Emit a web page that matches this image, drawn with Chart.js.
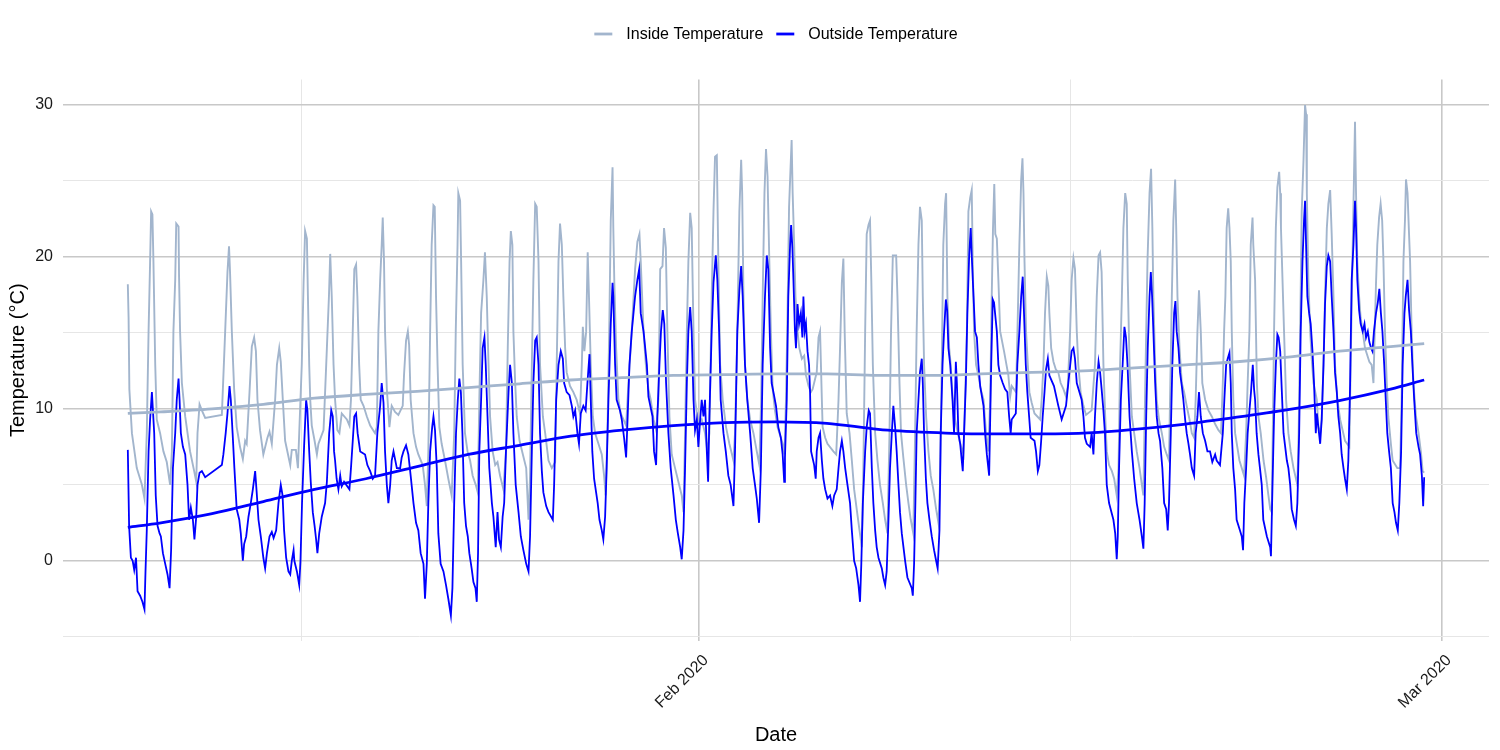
<!DOCTYPE html>
<html>
<head>
<meta charset="utf-8">
<title>Inside and Outside Temperature</title>
<script src="https://cdn.jsdelivr.net/npm/chart.js@4.4.1/dist/chart.umd.min.js"></script>
<style>
  html, body { margin: 0; padding: 0; background: #ffffff; }
  #wrap { width: 1500px; height: 750px; }
</style>
</head>
<body>
<div id="wrap"><canvas id="tempChart"></canvas></div>
<script>
// time is in days since 1 Jan 2020 00:00 (31 = 1 Feb, 60 = 1 Mar)
const insideTimes = [
  8.71, 8.74, 8.77, 8.87, 9.06, 9.26, 9.36, 9.45, 9.52, 9.58, 9.62, 9.67, 9.71, 9.78, 9.84, 9.97,
  10.10, 10.23, 10.36, 10.43, 10.49, 10.56, 10.60, 10.69, 10.71, 10.75, 10.82, 10.95, 11.14, 11.30,
  11.38, 11.43, 11.51, 11.60, 11.73, 12.38, 12.51, 12.60, 12.66, 12.70, 12.77, 12.86, 12.96, 13.09,
  13.20, 13.29, 13.35, 13.46, 13.55, 13.64, 13.71, 13.77, 13.87, 14.00, 14.16, 14.24, 14.33, 14.46,
  14.53, 14.62, 14.68, 14.76, 14.85, 15.05, 15.11, 15.27, 15.35, 15.40, 15.50, 15.57, 15.63, 15.70,
  15.74, 15.79, 15.83, 15.89, 16.00, 16.09, 16.15, 16.35, 16.48, 16.56, 16.61, 16.67, 16.74, 16.80,
  16.89, 16.97, 17.06, 17.26, 17.36, 17.42, 17.49, 17.55, 17.62, 17.67, 17.74, 17.80, 17.91, 18.04,
  18.17, 18.36, 18.43, 18.49, 18.56, 18.62, 18.66, 18.71, 18.75, 18.82, 18.92, 19.01, 19.14, 19.27,
  19.44, 19.49, 19.57, 19.64, 19.69, 19.75, 19.86, 19.96, 20.05, 20.22, 20.31, 20.38, 20.44, 20.51,
  20.57, 20.64, 20.69, 20.74, 20.80, 20.87, 20.96, 21.09, 21.22, 21.35, 21.45, 21.51, 21.58, 21.61,
  21.68, 21.72, 21.78, 21.87, 21.97, 22.07, 22.17, 22.29, 22.37, 22.43, 22.50, 22.59, 22.65, 22.72,
  22.79, 22.85, 22.95, 23.05, 23.14, 23.24, 23.37, 23.47, 23.54, 23.61, 23.66, 23.72, 23.76, 23.83,
  23.89, 24.00, 24.13, 24.26, 24.35, 24.41, 24.48, 24.54, 24.61, 24.67, 24.74, 24.80, 24.91, 25.00,
  25.13, 25.26, 25.39, 25.45, 25.52, 25.58, 25.65, 25.71, 25.78, 25.84, 25.97, 26.10, 26.23, 26.36,
  26.43, 26.47, 26.53, 26.60, 26.66, 26.71, 26.78, 26.86, 26.95, 27.08, 27.21, 27.30, 27.36, 27.43,
  27.50, 27.56, 27.63, 27.66, 27.70, 27.77, 27.86, 27.95, 28.16, 28.25, 28.38, 28.51, 28.60, 28.68,
  28.73, 28.84, 28.93, 29.03, 29.12, 29.23, 29.33, 29.42, 29.49, 29.58, 29.64, 29.71, 29.77, 29.85,
  29.94, 30.07, 30.20, 30.33, 30.40, 30.46, 30.53, 30.59, 30.66, 30.72, 30.79, 30.85, 30.98, 31.11,
  31.24, 31.33, 31.41, 31.50, 31.57, 31.63, 31.70, 31.76, 31.83, 31.93, 32.06, 32.19, 32.35, 32.41,
  32.50, 32.58, 32.65, 32.69, 32.74, 32.80, 32.89, 33.00, 33.13, 33.26, 33.36, 33.43, 33.49, 33.56,
  33.62, 33.68, 33.75, 33.81, 33.88, 33.97, 34.07, 34.27, 34.34, 34.40, 34.46, 34.52, 34.59, 34.62,
  34.66, 34.72, 34.77, 34.85, 34.92, 35.02, 35.11, 35.18, 35.28, 35.37, 35.44, 35.54, 35.60, 35.67,
  35.73, 35.80, 35.83, 35.93, 36.02, 36.25, 36.36, 36.45, 36.51, 36.58, 36.64, 36.69, 36.77, 36.88,
  36.97, 37.06, 37.16, 37.27, 37.36, 37.42, 37.49, 37.55, 37.62, 37.68, 37.73, 37.79, 37.88, 37.97,
  38.07, 38.18, 38.27, 38.36, 38.44, 38.50, 38.57, 38.70, 38.75, 38.83, 38.89, 38.98, 39.09, 39.18,
  39.27, 39.37, 39.44, 39.50, 39.57, 39.63, 39.70, 39.74, 39.79, 39.87, 39.96, 40.05, 40.15, 40.26,
  40.35, 40.41, 40.48, 40.54, 40.61, 40.65, 40.70, 40.77, 40.83, 40.91, 41.00, 41.17, 41.33, 41.39,
  41.46, 41.52, 41.59, 41.65, 41.69, 41.74, 41.82, 41.91, 42.00, 42.11, 42.21, 42.30, 42.37, 42.43,
  42.48, 42.53, 42.57, 42.63, 42.69, 42.76, 42.91, 43.08, 43.15, 43.21, 43.38, 43.45, 43.51, 43.58,
  43.63, 43.67, 43.71, 43.77, 43.84, 43.90, 43.99, 44.10, 44.32, 44.38, 44.45, 44.51, 44.58, 44.64,
  44.68, 44.75, 44.84, 44.93, 45.03, 45.12, 45.23, 45.33, 45.40, 45.49, 45.55, 45.62, 45.68, 45.75,
  45.81, 45.90, 46.01, 46.11, 46.33, 46.46, 46.53, 46.60, 46.66, 46.72, 46.79, 46.86, 46.92, 47.01,
  47.12, 47.21, 47.31, 47.38, 47.44, 47.51, 47.57, 47.64, 47.70, 47.74, 47.81, 47.90, 47.99, 48.09,
  48.20, 48.29, 48.35, 48.39, 48.46, 48.51, 48.59, 48.65, 48.70, 48.74, 48.81, 48.87, 48.96, 49.07,
  49.16, 49.26, 49.35, 49.39, 49.46, 49.52, 49.59, 49.63, 49.68, 49.76, 49.85, 49.94, 50.04, 50.15,
  50.24, 50.33, 50.39, 50.46, 50.52, 50.59, 50.65, 50.76, 50.89, 51.02, 51.15, 51.28, 51.38, 51.45,
  51.50, 51.55, 51.60, 51.66, 51.71, 51.76, 51.80, 51.86, 51.93, 52.10, 52.28, 52.36, 52.42, 52.49,
  52.54, 52.61, 52.64, 52.71, 52.78, 52.84, 52.93, 53.04, 53.14, 53.23, 53.30, 53.36, 53.40, 53.45,
  53.52, 53.58, 53.65, 53.69, 53.72, 53.78, 53.84, 53.92, 54.01, 54.10, 54.21, 54.36, 54.41, 54.47,
  54.53, 54.60, 54.66, 54.70, 54.73, 54.79, 54.86, 54.92, 54.99, 55.12, 55.18, 55.25, 55.31, 55.38,
  55.44, 55.51, 55.57, 55.64, 55.70, 55.77, 55.83, 55.92, 56.03, 56.22, 56.39, 56.44, 56.51, 56.57,
  56.61, 56.65, 56.70, 56.77, 56.83, 56.91, 57.00, 57.17, 57.26, 57.33, 57.38, 57.43, 57.48, 57.55,
  57.61, 57.67, 57.72, 57.78, 57.85, 57.91, 58.01, 58.08, 58.26, 58.37, 58.43, 58.50, 58.56, 58.60,
  58.66, 58.71, 58.76, 58.82, 58.89, 58.99, 59.09, 59.18, 59.25, 59.31
];
const insideTemps = [
  18.2, 16.0, 11.3, 8.4, 6.1, 5.0, 4.1, 8.4, 15.1, 19.7, 23.0, 22.8, 19.7, 12.9, 9.3, 8.4,
  7.2, 6.5, 5.0, 7.2, 15.1, 18.5, 22.2, 22.0, 18.7, 15.1, 11.7, 9.5, 7.2, 5.9,
  5.2, 8.4, 10.3, 9.9, 9.4, 9.6, 15.1, 19.0, 20.7, 19.0, 15.1, 11.3, 8.8, 7.5,
  6.7, 7.9, 7.7, 11.1, 14.1, 14.7, 13.8, 10.6, 8.6, 7.0, 8.1, 8.5, 7.7, 10.6,
  12.9, 14.0, 13.1, 10.6, 7.9, 6.3, 7.3, 7.3, 6.1, 8.4, 12.9, 18.3, 21.7, 21.2,
  17.4, 12.9, 10.6, 8.9, 7.9, 7.0, 7.7, 8.6, 14.0, 17.4, 20.2, 17.4, 12.9, 10.6,
  8.6, 8.4, 9.7, 9.3, 8.9, 10.6, 15.1, 19.2, 19.5, 17.4, 12.9, 10.6, 10.2, 9.5,
  8.9, 8.4, 8.8, 15.1, 18.5, 20.8, 22.6, 19.7, 15.1, 11.3, 8.8, 10.2, 9.8, 9.6,
  10.2, 12.2, 14.5, 15.1, 14.2, 10.6, 8.4, 7.5, 7.0, 6.3, 5.0, 3.6, 7.2, 15.1,
  20.8, 23.4, 23.3, 17.4, 12.9, 8.8, 7.7, 6.6, 5.4, 4.3, 8.4, 15.1, 20.8, 24.2,
  23.7, 19.7, 12.9, 8.4, 7.2, 6.6, 5.6, 5.0, 4.5, 10.6, 16.3, 18.5, 20.3, 17.4,
  12.9, 9.5, 7.2, 6.3, 6.5, 5.6, 4.7, 7.2, 14.0, 19.7, 21.7, 20.8, 15.1, 11.7,
  9.5, 7.9, 7.0, 6.1, 2.7, 5.6, 12.9, 18.5, 23.5, 23.3, 19.7, 12.9, 9.5, 8.4,
  6.6, 6.1, 6.5, 12.9, 19.7, 22.2, 20.8, 17.4, 14.0, 12.4, 11.5, 11.1, 10.6, 9.7,
  12.9, 15.4, 13.8, 15.1, 20.3, 17.4, 12.9, 9.5, 8.4, 7.7, 7.0, 5.6, 4.3, 8.4,
  15.1, 22.4, 25.9, 21.9, 18.3, 14.0, 10.6, 9.7, 8.9, 11.7, 15.1, 19.2, 21.0, 21.5,
  19.7, 15.1, 12.9, 11.3, 10.6, 9.3, 8.6, 10.6, 19.2, 19.4, 21.9, 20.6, 15.1, 9.5,
  7.0, 6.1, 5.2, 4.3, 3.2, 8.4, 15.1, 19.7, 22.9, 21.9, 15.1, 10.6, 9.0, 9.3,
  8.4, 7.2, 8.4, 17.4, 23.0, 26.6, 26.7, 19.7, 12.9, 10.6, 8.8, 7.7, 6.6, 8.4,
  15.1, 23.0, 26.4, 24.2, 17.4, 12.9, 10.6, 9.3, 8.4, 7.2, 6.3, 10.6, 17.4, 24.2,
  27.1, 25.3, 19.7, 15.1, 11.3, 9.9, 8.8, 7.7, 7.0, 10.6, 16.3, 23.3, 26.4, 27.7,
  24.2, 20.8, 17.4, 15.1, 14.0, 13.3, 13.5, 12.2, 11.5, 11.1, 11.3, 12.0, 12.4, 14.7,
  15.1, 10.6, 8.8, 8.1, 7.7, 7.2, 7.0, 10.6, 14.0, 18.3, 19.9, 15.1, 9.7, 8.4,
  6.6, 4.7, 3.4, 2.0, 0.9, 6.1, 15.1, 21.5, 22.1, 22.4, 18.5, 12.9, 8.4, 6.6,
  5.0, 3.8, 2.7, 1.8, 8.4, 15.1, 20.1, 20.1, 17.4, 11.7, 8.4, 6.8, 5.0, 3.8,
  2.7, 1.8, 8.4, 15.1, 20.8, 23.3, 22.4, 17.4, 12.9, 9.5, 7.2, 5.6, 4.7, 3.4,
  2.5, 5.0, 12.9, 20.8, 23.5, 24.2, 17.4, 14.0, 12.9, 10.6, 9.3, 7.9, 7.0, 10.6,
  15.1, 23.0, 23.9, 24.4, 19.7, 15.1, 12.9, 12.2, 11.3, 10.6, 8.4, 7.2, 10.6, 17.4,
  21.9, 24.8, 21.5, 21.2, 18.5, 15.1, 13.8, 12.2, 10.8, 11.5, 11.1, 16.3, 20.8, 25.1,
  26.5, 24.2, 19.7, 15.1, 12.9, 11.1, 10.4, 9.7, 9.3, 10.6, 12.9, 16.3, 18.7, 18.1,
  16.3, 14.0, 13.1, 12.6, 12.4, 11.7, 11.3, 10.8, 11.5, 15.1, 18.5, 19.9, 19.2, 15.1,
  12.9, 11.1, 10.2, 9.6, 9.9, 12.9, 17.4, 20.1, 20.3, 19.0, 12.9, 9.5, 7.2, 6.3,
  5.9, 5.4, 4.3, 6.1, 12.9, 17.4, 21.9, 24.2, 23.5, 18.5, 12.9, 9.5, 8.4, 7.2,
  6.1, 5.0, 4.3, 8.4, 15.1, 19.7, 24.2, 25.8, 21.9, 17.4, 12.9, 10.6, 9.3, 8.4,
  7.5, 7.0, 6.6, 10.6, 17.4, 22.4, 25.1, 22.0, 17.4, 14.0, 11.7, 11.1, 10.2, 9.3,
  8.4, 8.1, 10.6, 15.1, 17.8, 15.1, 11.7, 10.6, 9.9, 9.5, 9.0, 8.6, 8.4, 11.7,
  15.1, 17.4, 21.9, 23.2, 21.9, 19.7, 15.1, 10.6, 8.4, 6.6, 5.6, 8.4, 11.7, 15.1,
  20.8, 22.6, 20.8, 18.5, 11.7, 9.5, 8.4, 6.6, 5.5, 4.3, 3.4, 3.2, 8.4, 15.1,
  21.9, 24.6, 25.6, 24.2, 21.9, 18.5, 15.1, 10.6, 8.4, 7.2, 6.1, 5.0, 8.4, 15.1,
  23.0, 26.4, 30.0, 29.4, 24.2, 18.5, 15.1, 13.3, 11.7, 10.6, 8.8, 8.4, 9.3, 12.9,
  17.4, 21.9, 23.5, 24.4, 21.5, 17.4, 12.9, 10.6, 9.3, 7.9, 7.5, 12.9, 19.7, 25.3,
  28.9, 24.2, 19.7, 17.4, 16.0, 15.1, 14.0, 13.1, 12.9, 11.7, 15.1, 18.3, 20.8, 22.6,
  23.5, 22.4, 19.7, 15.1, 11.7, 9.5, 7.7, 6.6, 6.1, 6.1, 10.6, 19.7, 22.4, 25.1,
  24.2, 21.9, 19.7, 15.1, 11.7, 9.5, 8.4, 7.2, 5.9, 5.8
];

const outsideTimes = [
  8.71, 8.76, 8.83, 8.90, 8.96, 9.03, 9.09, 9.19, 9.28, 9.36, 9.40, 9.45, 9.52, 9.58, 9.65, 9.69,
  9.74, 9.80, 9.87, 9.95, 10.00, 10.08, 10.17, 10.26, 10.34, 10.40, 10.47, 10.56, 10.62, 10.69,
  10.73, 10.78, 10.86, 10.95, 11.04, 11.10, 11.17, 11.25, 11.31, 11.38, 11.43, 11.51, 11.60, 11.73,
  12.38, 12.44, 12.53, 12.60, 12.68, 12.73, 12.80, 12.87, 12.96, 13.06, 13.12, 13.20, 13.25, 13.33,
  13.42, 13.51, 13.59, 13.68, 13.74, 13.81, 13.90, 14.00, 14.07, 14.14, 14.24, 14.33, 14.40, 14.50,
  14.59, 14.68, 14.75, 14.81, 14.89, 14.98, 15.05, 15.11, 15.18, 15.21, 15.31, 15.40, 15.45, 15.51,
  15.59, 15.67, 15.72, 15.79, 15.85, 15.93, 16.00, 16.06, 16.11, 16.18, 16.28, 16.41, 16.48, 16.57,
  16.65, 16.71, 16.76, 16.80, 16.86, 16.93, 17.00, 17.06, 17.15, 17.36, 17.42, 17.49, 17.55, 17.62,
  17.68, 17.78, 17.97, 18.06, 18.17, 18.27, 18.36, 18.45, 18.56, 18.62, 18.69, 18.75, 18.82, 18.88,
  18.95, 19.01, 19.08, 19.21, 19.34, 19.40, 19.47, 19.57, 19.66, 19.75, 19.86, 19.96, 20.05, 20.14,
  20.25, 20.31, 20.38, 20.44, 20.51, 20.59, 20.64, 20.70, 20.77, 20.83, 20.92, 21.03, 21.13, 21.22,
  21.32, 21.38, 21.45, 21.52, 21.59, 21.65, 21.71, 21.77, 21.84, 21.91, 21.98, 22.04, 22.13, 22.20,
  22.28, 22.33, 22.38, 22.43, 22.50, 22.56, 22.63, 22.68, 22.75, 22.82, 22.92, 22.98, 23.07, 23.14,
  23.20, 23.27, 23.34, 23.40, 23.47, 23.57, 23.63, 23.70, 23.76, 23.85, 23.96, 24.05, 24.15, 24.26,
  24.35, 24.41, 24.48, 24.54, 24.61, 24.67, 24.74, 24.80, 24.87, 24.93, 25.04, 25.13, 25.30, 25.35,
  25.43, 25.52, 25.61, 25.69, 25.74, 25.84, 25.95, 26.04, 26.10, 26.17, 26.26, 26.32, 26.39, 26.49,
  26.58, 26.65, 26.73, 26.78, 26.84, 26.91, 27.05, 27.12, 27.21, 27.27, 27.34, 27.40, 27.47, 27.56,
  27.63, 27.66, 27.73, 27.79, 27.92, 27.99, 28.08, 28.16, 28.22, 28.29, 28.38, 28.51, 28.60, 28.67,
  28.73, 28.84, 28.97, 29.03, 29.19, 29.25, 29.33, 29.38, 29.46, 29.52, 29.59, 29.65, 29.72, 29.81,
  29.90, 30.01, 30.10, 30.18, 30.27, 30.33, 30.40, 30.46, 30.53, 30.59, 30.66, 30.72, 30.79, 30.85,
  30.92, 30.98, 31.05, 31.11, 31.18, 31.24, 31.31, 31.36, 31.41, 31.50, 31.57, 31.66, 31.72, 31.79,
  31.85, 31.96, 32.05, 32.15, 32.24, 32.35, 32.41, 32.50, 32.58, 32.65, 32.71, 32.80, 32.89, 33.00,
  33.10, 33.19, 33.26, 33.35, 33.42, 33.49, 33.58, 33.65, 33.71, 33.78, 33.84, 33.91, 34.01, 34.10,
  34.20, 34.27, 34.33, 34.36, 34.43, 34.49, 34.56, 34.60, 34.65, 34.69, 34.75, 34.79, 34.85, 34.91,
  34.98, 35.04, 35.08, 35.13, 35.18, 35.24, 35.30, 35.34, 35.38, 35.50, 35.56, 35.60, 35.67, 35.73,
  35.80, 35.86, 35.93, 36.02, 36.12, 36.21, 36.28, 36.38, 36.45, 36.51, 36.58, 36.64, 36.71, 36.80,
  36.90, 36.97, 37.06, 37.14, 37.23, 37.29, 37.34, 37.40, 37.49, 37.55, 37.63, 37.68, 37.75, 37.81,
  37.88, 37.94, 38.01, 38.14, 38.20, 38.27, 38.33, 38.40, 38.46, 38.53, 38.59, 38.66, 38.72, 38.79,
  38.85, 38.92, 39.05, 39.14, 39.31, 39.35, 39.40, 39.45, 39.50, 39.57, 39.63, 39.70, 39.74, 39.79,
  39.86, 39.92, 40.00, 40.09, 40.18, 40.26, 40.32, 40.39, 40.44, 40.51, 40.57, 40.64, 40.69, 40.74,
  40.81, 40.90, 40.96, 41.03, 41.07, 41.13, 41.20, 41.26, 41.30, 41.35, 41.42, 41.48, 41.55, 41.61,
  41.65, 41.72, 41.78, 41.85, 41.91, 41.98, 42.11, 42.17, 42.24, 42.33, 42.41, 42.47, 42.52, 42.56,
  42.63, 42.69, 42.76, 42.86, 42.95, 43.04, 43.11, 43.17, 43.21, 43.37, 43.43, 43.51, 43.58, 43.64,
  43.69, 43.76, 43.82, 43.89, 43.95, 44.10, 44.16, 44.23, 44.29, 44.36, 44.42, 44.49, 44.55, 44.62,
  44.68, 44.86, 45.03, 45.16, 45.33, 45.42, 45.55, 45.62, 45.68, 45.75, 45.94, 46.01, 46.07, 46.14,
  46.27, 46.33, 46.40, 46.46, 46.53, 46.60, 46.66, 46.72, 46.79, 46.85, 46.92, 47.01, 47.18, 47.25,
  47.31, 47.35, 47.40, 47.47, 47.54, 47.61, 47.67, 47.73, 47.81, 47.90, 47.99, 48.09, 48.20, 48.29,
  48.35, 48.40, 48.46, 48.52, 48.59, 48.64, 48.69, 48.74, 48.81, 48.87, 48.94, 49.00, 49.09, 49.16,
  49.24, 49.30, 49.35, 49.42, 49.48, 49.55, 49.60, 49.65, 49.72, 49.78, 49.85, 49.91, 49.98, 50.04,
  50.11, 50.17, 50.24, 50.33, 50.39, 50.46, 50.52, 50.59, 50.67, 50.76, 50.85, 50.95, 51.04, 51.15,
  51.21, 51.34, 51.45, 51.51, 51.58, 51.64, 51.71, 51.76, 51.80, 51.86, 51.93, 51.99, 52.12, 52.19,
  52.24, 52.29, 52.36, 52.42, 52.49, 52.55, 52.62, 52.67, 52.71, 52.77, 52.84, 52.90, 52.97, 53.03,
  53.17, 53.30, 53.33, 53.39, 53.45, 53.52, 53.58, 53.63, 53.69, 53.75, 53.82, 53.95, 54.01, 54.08,
  54.14, 54.23, 54.30, 54.36, 54.43, 54.49, 54.56, 54.62, 54.66, 54.70, 54.75, 54.82, 54.88, 54.95,
  55.01, 55.08, 55.12, 55.18, 55.25, 55.31, 55.38, 55.44, 55.51, 55.57, 55.64, 55.70, 55.77, 55.83,
  55.90, 55.96, 56.03, 56.09, 56.16, 56.22, 56.29, 56.35, 56.42, 56.48, 56.55, 56.61, 56.65, 56.70,
  56.77, 56.83, 56.91, 56.98, 57.04, 57.11, 57.17, 57.24, 57.29, 57.35, 57.43, 57.50, 57.56, 57.62,
  57.68, 57.75, 57.81, 57.87, 57.94, 58.01, 58.08, 58.15, 58.21, 58.28, 58.34, 58.41, 58.47, 58.54,
  58.59, 58.66, 58.72, 58.79, 58.85, 58.92, 59.00, 59.09, 59.15, 59.22, 59.27, 59.31
];
const outsideTemps = [
  7.3, 2.3, 0.2, 0.0, -0.6, 0.2, -2.0, -2.3, -2.7, -3.2, -0.7, 2.0, 7.2, 9.3, 11.1, 9.9,
  8.4, 4.3, 2.3, 1.8, 1.6, 0.5, -0.2, -0.9, -1.8, 0.7, 6.1, 8.4, 10.6, 12.0,
  10.6, 8.4, 7.5, 7.0, 5.0, 2.7, 3.5, 2.7, 1.4, 2.9, 5.0, 5.8, 5.9, 5.5,
  6.3, 7.0, 8.4, 9.7, 11.5, 10.6, 8.4, 6.1, 3.4, 2.7, 1.8, 0.0, 1.1, 1.6,
  2.9, 3.8, 4.7, 5.9, 4.5, 2.7, 1.6, 0.2, -0.5, 0.5, 1.6, 1.9, 1.5, 2.0,
  3.8, 5.0, 4.3, 2.0, 0.2, -0.7, -0.9, 0.0, 0.7, 0.0, -0.7, -1.6, 0.0, 3.8,
  7.5, 10.6, 9.9, 7.2, 5.2, 3.2, 2.3, 1.4, 0.5, 1.8, 2.9, 3.8, 5.2, 8.4,
  9.9, 9.5, 7.2, 6.6, 5.4, 4.7, 5.6, 4.9, 5.2, 4.7, 6.1, 7.9, 9.5, 9.7,
  8.4, 7.2, 7.0, 6.3, 5.9, 5.4, 5.6, 8.4, 10.2, 11.7, 10.4, 7.2, 5.0, 3.8,
  5.0, 6.6, 7.2, 6.1, 6.1, 6.8, 7.2, 7.6, 7.0, 5.6, 3.8, 2.5, 2.0, 0.5,
  -0.2, -2.5, -0.2, 3.8, 7.2, 8.8, 9.5, 8.6, 6.1, 1.8, -0.2, -0.7, -1.6, -2.5,
  -3.6, -1.8, 3.8, 8.4, 10.6, 12.0, 11.1, 8.4, 3.8, 2.3, 1.6, 0.5, -0.5, -1.4,
  -1.8, -2.7, 0.5, 7.2, 10.6, 14.0, 14.7, 12.9, 9.5, 6.1, 3.8, 2.9, 0.9, 3.2,
  1.4, 0.9, 2.9, 3.8, 7.2, 11.1, 12.9, 11.7, 8.4, 5.0, 3.2, 1.6, 0.7, -0.2,
  -0.7, 1.6, 7.2, 11.7, 14.5, 14.7, 12.9, 8.4, 5.9, 4.5, 3.6, 3.2, 2.7, 5.0,
  10.6, 12.9, 13.8, 13.3, 11.7, 11.1, 10.9, 10.2, 9.5, 9.9, 8.4, 7.7, 9.7, 10.2,
  9.9, 11.7, 13.6, 10.6, 7.2, 5.4, 3.8, 2.7, 2.0, 1.4, 2.9, 6.1, 10.6, 15.6,
  18.3, 17.4, 12.9, 10.6, 9.9, 9.3, 8.1, 6.8, 9.5, 12.9, 15.1, 17.4, 18.5, 19.2,
  16.3, 15.1, 12.9, 10.8, 9.5, 7.2, 6.3, 9.5, 12.9, 15.1, 16.5, 15.6, 11.7, 8.4,
  6.1, 4.3, 2.7, 1.8, 0.9, 0.1, 2.0, 6.1, 11.7, 15.1, 16.7, 15.1, 10.6, 8.6,
  9.3, 7.5, 9.3, 10.6, 9.5, 10.6, 7.2, 5.2, 9.5, 15.1, 18.3, 20.1, 18.5, 15.1,
  10.6, 8.4, 7.2, 5.6, 5.0, 3.6, 7.2, 15.1, 17.8, 19.4, 17.4, 12.9, 10.6, 8.4,
  6.1, 5.0, 4.1, 2.5, 6.1, 12.9, 17.4, 20.1, 19.2, 14.0, 11.7, 11.1, 10.2, 8.8,
  8.1, 7.0, 5.2, 6.8, 10.6, 17.4, 20.8, 22.1, 20.6, 18.5, 15.1, 14.0, 16.9, 15.6,
  16.3, 14.7, 17.4, 15.1, 15.6, 13.8, 12.9, 11.1, 7.2, 6.3, 5.4, 7.2, 8.1, 8.4,
  6.6, 5.4, 4.7, 4.1, 4.3, 3.6, 4.3, 4.7, 6.1, 7.2, 7.9, 7.2, 6.1, 5.0,
  3.8, 2.0, 0.0, -0.5, -1.6, -2.7, -0.2, 3.8, 7.2, 8.8, 9.9, 9.7, 6.1, 3.8,
  2.0, 0.9, 0.2, -0.5, -1.1, -1.6, -0.7, 2.7, 6.1, 8.4, 10.2, 8.8, 7.2, 5.0,
  3.2, 1.8, 0.0, -1.1, -1.8, -2.3, -0.2, 3.8, 8.4, 10.6, 12.4, 13.3, 11.7, 8.4,
  5.4, 3.8, 2.7, 1.6, 0.7, 0.0, -0.5, 2.0, 8.4, 12.9, 15.1, 17.2, 16.5, 14.0,
  12.9, 10.6, 8.4, 13.1, 11.7, 8.4, 7.7, 6.6, 5.9, 8.4, 11.7, 16.3, 20.1, 21.9,
  20.1, 17.4, 15.1, 14.7, 12.9, 11.5, 10.2, 8.4, 7.0, 5.6, 12.9, 17.2, 17.0, 16.3,
  15.1, 12.9, 12.2, 11.7, 11.3, 11.1, 9.5, 8.4, 9.3, 9.7, 12.9, 15.1, 17.4, 18.7,
  16.3, 12.9, 11.1, 9.5, 8.1, 7.9, 7.2, 5.9, 6.3, 7.9, 9.5, 11.1, 12.6, 13.3,
  12.2, 11.5, 10.2, 9.3, 10.2, 11.7, 13.8, 14.0, 13.3, 11.7, 10.6, 9.5, 8.1, 7.7,
  7.5, 8.4, 7.0, 9.5, 11.7, 13.1, 12.4, 11.3, 9.9, 8.4, 5.0, 3.8, 2.7, 1.8,
  0.1, 1.6, 6.1, 10.6, 12.9, 15.4, 14.7, 12.9, 9.5, 7.2, 5.4, 3.8, 2.7, 1.6,
  0.8, 3.8, 9.5, 14.0, 17.4, 19.0, 17.4, 15.1, 11.7, 9.5, 8.4, 7.9, 6.1, 3.8,
  3.4, 2.0, 3.8, 8.4, 12.9, 16.3, 17.1, 15.1, 14.0, 12.4, 11.5, 10.6, 9.3, 8.4,
  7.7, 7.0, 6.1, 5.6, 8.4, 9.5, 11.1, 9.5, 8.4, 7.9, 7.2, 7.2, 6.5, 7.0,
  6.6, 6.3, 8.4, 10.6, 12.9, 13.3, 13.7, 11.7, 8.4, 6.1, 4.7, 2.7, 2.0, 1.6,
  0.7, 3.8, 6.1, 8.4, 9.9, 11.1, 12.9, 11.3, 10.6, 8.4, 7.0, 6.1, 5.0, 2.7,
  1.6, 0.9, 0.3, 5.0, 9.5, 12.9, 14.9, 14.7, 13.8, 11.3, 8.4, 6.6, 6.1, 5.0,
  3.4, 2.7, 2.3, 3.8, 8.4, 15.1, 19.7, 22.4, 23.7, 20.8, 17.4, 16.3, 15.6, 13.8,
  11.7, 8.4, 9.7, 8.8, 7.7, 9.3, 12.9, 16.9, 19.4, 20.1, 19.7, 17.4, 15.1, 12.4,
  11.1, 9.5, 8.4, 7.0, 6.1, 5.4, 4.7, 6.6, 11.7, 18.5, 20.8, 23.7, 21.9, 18.5,
  16.5, 15.6, 15.1, 15.6, 14.7, 15.1, 14.4, 14.0, 13.8, 15.1, 16.3, 17.0, 17.9, 16.3,
  15.1, 12.9, 10.6, 8.4, 7.2, 6.1, 3.8, 3.2, 2.5, 2.0, 3.8, 7.2, 12.9, 16.3,
  17.4, 18.5, 16.5, 15.1, 12.9, 10.6, 8.4, 7.5, 7.0, 5.6, 3.6, 5.5
];

// smoothed trend lines
const trendTimes = [8.71, 10, 12, 14, 16, 18, 20, 22, 24, 26, 28, 30, 32, 34, 36, 38, 40, 42, 44, 46, 48, 50, 52, 54, 56, 58, 59.31];
const insideTrend = [9.7, 9.8, 10.0, 10.3, 10.7, 10.95, 11.15, 11.4, 11.65, 11.9, 12.05, 12.2, 12.25, 12.3, 12.3, 12.2, 12.2, 12.3, 12.4, 12.5, 12.7, 12.9, 13.1, 13.4, 13.8, 14.1, 14.3];
const outsideTrend = [2.2, 2.5, 3.1, 3.9, 4.7, 5.4, 6.2, 7.0, 7.6, 8.2, 8.6, 8.9, 9.1, 9.15, 9.05, 8.65, 8.45, 8.35, 8.35, 8.4, 8.65, 9.0, 9.45, 9.95, 10.55, 11.3, 11.9];

const xTickDays = [31, 60];
const xTickLabels = ['Feb 2020', 'Mar 2020'];
const xMinorDays = [15.5, 45.5];
const yTickValues = [0, 10, 20, 30];
const yMinorValues = [-5, 5, 15, 25];

const insideColor = '#A2B5CD';
const outsideColor = '#0000FF';
const fontFamily = '"Liberation Sans", Arial, Helvetica, sans-serif';

function toPoints(xs, ys) {
  return xs.map((x, i) => ({ x: x, y: ys[i] }));
}

// legend drawn as short lines above the panel, like the ggplot one
const topLegend = {
  id: 'topLegend',
  afterDraw(chart) {
    const ctx = chart.ctx;
    const items = chart.data.datasets.filter(d => d.inLegend);
    const lineW = 18, gap = 14, itemGap = 13;
    ctx.save();
    ctx.font = '16px ' + fontFamily;
    const widths = items.map(d => lineW + gap + ctx.measureText(d.label).width);
    const total = widths.reduce((a, b) => a + b, 0) + itemGap * (items.length - 1);
    const area = chart.chartArea;
    let x = (area.left + area.right) / 2 - total / 2;
    const y = 34;
    items.forEach((d, i) => {
      ctx.strokeStyle = d.borderColor;
      ctx.lineWidth = 2.8;
      ctx.beginPath();
      ctx.moveTo(x, y);
      ctx.lineTo(x + lineW, y);
      ctx.stroke();
      ctx.fillStyle = '#000000';
      ctx.textBaseline = 'middle';
      ctx.textAlign = 'left';
      ctx.fillText(d.label, x + lineW + gap, y + 1);
      x += widths[i] + itemGap;
    });
    ctx.restore();
  }
};

new Chart(document.getElementById('tempChart'), {
  type: 'line',
  data: {
    datasets: [
      {
        label: 'Inside Temperature',
        inLegend: true,
        data: toPoints(insideTimes, insideTemps),
        borderColor: insideColor,
        borderWidth: 1.9,
        pointRadius: 0,
        order: 4
      },
      {
        label: 'Outside Temperature',
        inLegend: true,
        data: toPoints(outsideTimes, outsideTemps),
        borderColor: outsideColor,
        borderWidth: 1.8,
        pointRadius: 0,
        order: 3
      },
      {
        label: 'Inside trend',
        data: toPoints(trendTimes, insideTrend),
        borderColor: insideColor,
        borderWidth: 2.8,
        pointRadius: 0,
        cubicInterpolationMode: 'monotone',
        order: 2
      },
      {
        label: 'Outside trend',
        data: toPoints(trendTimes, outsideTrend),
        borderColor: outsideColor,
        borderWidth: 2.8,
        pointRadius: 0,
        cubicInterpolationMode: 'monotone',
        order: 1
      }
    ]
  },
  options: {
    responsive: true,
    maintainAspectRatio: false,
    animation: false,
    layout: { padding: { top: 79.5, right: 11, left: 0, bottom: 0 } },
    plugins: {
      legend: { display: false },
      tooltip: { enabled: false }
    },
    scales: {
      x: {
        type: 'linear',
        min: 6.18,
        max: 61.84,
        afterBuildTicks: s => {
          s.ticks = xMinorDays.concat(xTickDays).sort((a, b) => a - b).map(v => ({ value: v }));
        },
        afterFit: s => { s.height = 109; },
        border: { display: false },
        grid: {
          drawTicks: false,
          color: c => (c.tick && xTickDays.includes(c.tick.value)) ? '#C8C8C8' : '#E6E6E6',
          lineWidth: c => (c.tick && xTickDays.includes(c.tick.value)) ? 1.6 : 1
        },
        ticks: {
          autoSkip: false,
          minRotation: 45,
          maxRotation: 45,
          padding: 10,
          labelOffset: 7,
          color: '#1A1A1A',
          font: { family: fontFamily, size: 16 },
          callback: v => {
            const i = xTickDays.indexOf(v);
            return i >= 0 ? xTickLabels[i] : '';
          }
        },
        title: {
          display: true,
          text: 'Date',
          color: '#000000',
          font: { family: fontFamily, size: 20 },
          padding: { top: 0, bottom: 3 }
        }
      },
      y: {
        min: -5.28,
        max: 31.68,
        afterBuildTicks: s => {
          s.ticks = yMinorValues.concat(yTickValues).sort((a, b) => a - b).map(v => ({ value: v }));
        },
        afterFit: s => { s.width = 63; },
        border: { display: false },
        grid: {
          drawTicks: false,
          color: c => (c.tick && yTickValues.includes(c.tick.value)) ? '#C8C8C8' : '#E6E6E6',
          lineWidth: c => (c.tick && yTickValues.includes(c.tick.value)) ? 1.6 : 1
        },
        ticks: {
          padding: 10,
          color: '#1A1A1A',
          font: { family: fontFamily, size: 16 },
          callback: v => yTickValues.includes(v) ? String(v) : ''
        },
        title: {
          display: true,
          text: 'Temperature (°C)',
          color: '#000000',
          font: { family: fontFamily, size: 20 },
          padding: { top: 6, bottom: 0 }
        }
      }
    }
  },
  plugins: [topLegend]
});
</script>
</body>
</html>
